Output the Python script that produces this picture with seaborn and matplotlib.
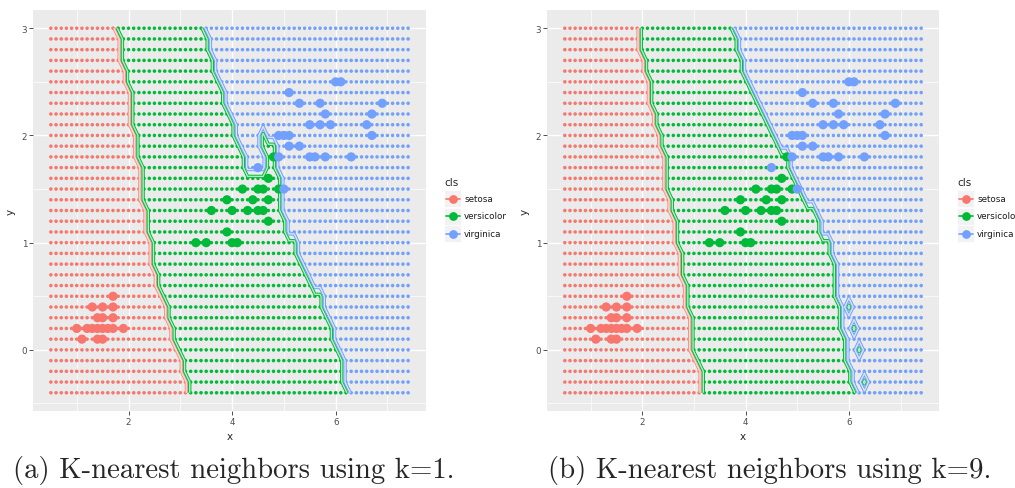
import numpy as np
import pandas as pd
import matplotlib
matplotlib.use("Agg")
import matplotlib.pyplot as plt
import seaborn as sns
from matplotlib.patches import Rectangle
from matplotlib.lines import Line2D
from matplotlib.colors import to_rgb

sns.set_theme(style="darkgrid")
plt.rcParams["axes.unicode_minus"] = False

# ---- data -------------------------------------------------------------
classes = ["setosa", "versicolor", "virginica"]
palette = {"setosa": "#F8766D", "versicolor": "#00BA38", "virginica": "#72A0FF"}

# evaluation lattice (petal length x petal width)
x_start, x_stop, x_step = 0.5, 7.4, 0.1
row_y = [3.0, 2.9, 2.8, 2.7, 2.6, 2.5, 2.4, 2.3, 2.2, 2.1, 2.0, 1.9, 1.8, 1.7,
         1.6, 1.5, 1.4, 1.3, 1.2, 1.1, 1.0, 0.9, 0.8, 0.7, 0.6, 0.5, 0.4, 0.3,
         0.2, 0.1, 0.0, -0.1, -0.2, -0.3, -0.4]

# k = 1: first lattice x predicted versicolor / virginica in each row
k1_first_versicolor = [1.8, 1.9, 1.9, 1.9, 2.0, 2.0, 2.1, 2.1, 2.1, 2.1, 2.2, 2.2,
                       2.2, 2.3, 2.3, 2.3, 2.3, 2.4, 2.4, 2.4, 2.5, 2.5, 2.5, 2.6,
                       2.6, 2.7, 2.8, 2.8, 2.9, 2.9, 3.0, 3.1, 3.1, 3.2, 3.2]
k1_first_virginica = [3.5, 3.6, 3.6, 3.7, 3.7, 3.8, 3.9, 3.9, 4.0, 4.1, 4.1, 4.2,
                      4.3, 4.3, 5.0, 5.0, 5.0, 5.0, 5.1, 5.1, 5.3, 5.3, 5.4, 5.5,
                      5.6, 5.8, 5.8, 5.9, 6.0, 6.0, 6.1, 6.2, 6.2, 6.2, 6.3]
# versicolor cells right of the virginica pocket (k = 1)
k1_extra_x = [4.6, 4.6, 4.7, 4.8, 4.7, 4.8, 4.7, 4.8]
k1_extra_y = [2.0, 1.9, 1.9, 1.9, 1.8, 1.8, 1.7, 1.7]
k1_extra_cls = ["versicolor"] * 8

# k = 9
k9_first_versicolor = [2.0, 2.0, 2.0, 2.1, 2.1, 2.2, 2.2, 2.2, 2.3, 2.3, 2.4, 2.4,
                       2.5, 2.5, 2.5, 2.5, 2.6, 2.6, 2.7, 2.7, 2.7, 2.8, 2.8, 2.8,
                       2.9, 2.9, 2.9, 3.0, 3.0, 3.0, 3.0, 3.1, 3.2, 3.2, 3.2]
k9_first_virginica = [3.8, 3.9, 3.9, 4.0, 4.0, 4.1, 4.2, 4.3, 4.4, 4.5, 4.6, 4.7,
                      4.9, 4.9, 5.0, 5.1, 5.2, 5.4, 5.5, 5.5, 5.7, 5.7, 5.8, 5.8,
                      5.8, 5.8, 5.9, 5.9, 5.9, 6.0, 6.0, 6.0, 6.1, 6.1, 6.2]
k9_extra_x = [6.0, 6.1, 6.2, 6.3]
k9_extra_y = [0.4, 0.2, 0.0, -0.3]
k9_extra_cls = ["versicolor"] * 4

# training observations
train_x = [1.7, 1.3, 1.5, 1.7, 1.4, 1.5, 1.7, 1.0, 1.2, 1.3, 1.4, 1.5, 1.6, 1.7,
           1.9, 1.1, 1.4, 1.5,
           3.3, 3.5, 4.0, 4.1, 3.9, 4.7, 3.6, 4.0, 4.3, 4.5, 4.6, 3.9, 4.4, 4.7,
           4.2, 4.5, 4.6, 4.9, 4.7, 4.8,
           6.0, 6.1, 5.1, 5.3, 5.7, 6.9, 5.8, 6.7, 5.5, 5.7, 5.9, 6.6, 4.9, 5.0,
           5.1, 6.7, 5.1, 5.3, 4.9, 5.5, 5.6, 5.8, 6.3, 4.5, 5.0]
train_y = [0.5, 0.4, 0.4, 0.4, 0.3, 0.3, 0.3, 0.2, 0.2, 0.2, 0.2, 0.2, 0.2, 0.2,
           0.2, 0.1, 0.1, 0.1,
           1.0, 1.0, 1.0, 1.0, 1.1, 1.2, 1.3, 1.3, 1.3, 1.3, 1.3, 1.4, 1.4, 1.4,
           1.5, 1.5, 1.5, 1.5, 1.6, 1.8,
           2.5, 2.5, 2.4, 2.3, 2.3, 2.3, 2.2, 2.2, 2.1, 2.1, 2.1, 2.1, 2.0, 2.0,
           2.0, 2.0, 1.9, 1.9, 1.8, 1.8, 1.8, 1.8, 1.8, 1.7, 1.5]
train_cls = ["setosa"] * 18 + ["versicolor"] * 20 + ["virginica"] * 25

captions = ["(a) K-nearest neighbors using k=1.", "(b) K-nearest neighbors using k=9."]

# ---- helpers ----------------------------------------------------------
grid_x = np.round(np.arange(x_start, x_stop + x_step / 2, x_step), 1)
grid_y = np.array(sorted(row_y))


def label_grid(first_vers, first_virg, ex_x, ex_y, ex_cls):
    recs = []
    for y, g, b in zip(row_y, first_vers, first_virg):
        for x in grid_x:
            c = "setosa" if x < g - 1e-9 else ("versicolor" if x < b - 1e-9 else "virginica")
            recs.append((x, y, c))
    df = pd.DataFrame(recs, columns=["x", "y", "cls"])
    for x, y, c in zip(ex_x, ex_y, ex_cls):
        m = np.isclose(df["x"], x) & np.isclose(df["y"], y)
        df.loc[m, "cls"] = c
    return df


def lighten(c, f):
    r, g, b = to_rgb(c)
    return (r + (1 - r) * f, g + (1 - g) * f, b + (1 - b) * f)


train = pd.DataFrame({"x": train_x, "y": train_y, "cls": train_cls})
panels = [
    label_grid(k1_first_versicolor, k1_first_virginica, k1_extra_x, k1_extra_y, k1_extra_cls),
    label_grid(k9_first_versicolor, k9_first_virginica, k9_extra_x, k9_extra_y, k9_extra_cls),
]

W, H = 1015, 489
fig = plt.figure(figsize=(W / 100, H / 100), dpi=100)
fig.patch.set_facecolor("white")
ax_rects = [(33, 11, 393, 401), (547, 11, 392, 401)]
legend_x = [444, 957]
caption_cx = [234, 770]

for df, (l, t, w, h), lx, cx, cap in zip(panels, ax_rects, legend_x, caption_cx, captions):
    ax = fig.add_axes([l / W, 1 - (t + h) / H, w / W, h / H])
    ax.set_facecolor("#EBEBEB")

    sns.scatterplot(data=df, x="x", y="y", hue="cls", hue_order=classes,
                    palette=palette, s=6.5, linewidth=0, legend=False, ax=ax, zorder=2)

    # decision boundaries: contour of each class indicator, drawn as a double line
    X, Y = np.meshgrid(grid_x, grid_y)
    for c in classes:
        piv = (df.assign(z=(df["cls"] == c).astype(float))
                 .pivot(index="y", columns="x", values="z")
                 .reindex(index=grid_y, columns=grid_x))
        Z = piv.values
        outer = lighten(palette[c], 0.2) if c == "setosa" else palette[c]
        ax.contour(X, Y, Z, levels=[0.82], colors=[outer], linewidths=2.4, zorder=3)
        ax.contour(X, Y, Z, levels=[0.82], colors=[lighten(palette[c], 0.72)],
                   linewidths=1.0, zorder=3)

    sns.scatterplot(data=train, x="x", y="y", hue="cls", hue_order=classes,
                    palette=palette, s=44, linewidth=0, legend=False, ax=ax, zorder=4)

    ax.set_xlim(0.155, 7.745)
    ax.set_ylim(-0.57, 3.17)
    ax.set_xticks([2, 4, 6])
    ax.set_yticks([0, 1, 2, 3])
    ax.set_xticks([1, 3, 5, 7], minor=True)
    ax.set_yticks([-0.5, 0.5, 1.5, 2.5], minor=True)
    ax.grid(which="major", color="white", linewidth=1.0)
    ax.grid(which="minor", color="white", linewidth=0.5)
    ax.set_axisbelow(True)
    for s in ax.spines.values():
        s.set_visible(False)
    ax.tick_params(which="major", length=2.7, width=0.6, color="#333333",
                   labelsize=6.3, labelcolor="#4D4D4D", pad=1.5, bottom=True, left=True)
    ax.tick_params(which="minor", length=0)
    ax.set_xlabel("x", fontsize=7.5, labelpad=4)
    ax.set_ylabel("y", fontsize=7.5, labelpad=4)

    # legend drawn in ggplot style
    fig.text(lx / W, 1 - 183 / H, "cls", fontsize=7.5, va="center", ha="left")
    for i, c in enumerate(classes):
        top = 191 + i * 17.5
        fig.add_artist(Rectangle((lx / W, 1 - (top + 17) / H), 17 / W, 17 / H,
                                 transform=fig.transFigure, facecolor="#F2F2F2",
                                 edgecolor="white", linewidth=0.6))
        cy = 1 - (top + 8.5) / H
        fig.add_artist(Line2D([(lx + 1.5) / W, (lx + 15.5) / W], [cy, cy],
                              transform=fig.transFigure, color=palette[c], lw=1.2))
        fig.add_artist(Line2D([(lx + 8.5) / W], [cy], marker="o", ms=6.3,
                              color=palette[c], mec="none", transform=fig.transFigure))
        fig.text((lx + 20) / W, cy, c, fontsize=6.3, va="center", ha="left",
                 color="#1A1A1A")

    fig.text(cx / W, 1 - 470 / H, cap, family="cmr10", fontsize=20.7,
             ha="center", va="center")

fig.savefig("out.png", dpi=100, facecolor="white")
